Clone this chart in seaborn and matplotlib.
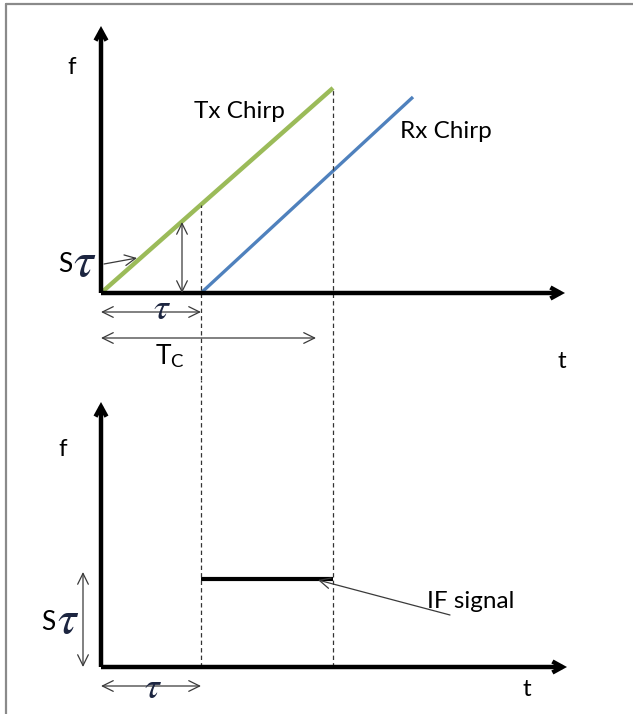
import matplotlib
matplotlib.use("Agg")
import matplotlib.pyplot as plt
import seaborn as sns
import pandas as pd
from matplotlib.lines import Line2D

# ---- data (time in units of tau, frequency in the same diagram units) ----
tau = 1.0
Tc = 2.32
tx_t = [0.0, 2.32]
tx_f = [0.0, 2.05]
rx_t = [1.0, 3.12]
rx_f = [0.0, 1.96]
if_t = [1.0, 2.32]
if_f = [0.88, 0.88]
s_tau = 0.71          # vertical S*tau marker on the top panel (at t=0.81)
s_tau_bottom = 0.95   # vertical S*tau marker on the bottom panel
tc_arrow_end = 2.15
labels_top = ["Tx Chirp", "Rx Chirp"]
label_if = "IF signal"

sns.set_theme(style="white")
plt.rcParams["font.family"] = ["Lato", "DejaVu Sans"]
plt.rcParams["mathtext.fontset"] = "stix"

W, H = 633, 714
fig = plt.figure(figsize=(W / 100, H / 100), dpi=100)
fig.patch.set_facecolor("white")

split = 380
ax1 = fig.add_axes([0, (H - split) / H, 1, split / H])
ax2 = fig.add_axes([0, 0, 1, (H - split) / H])
for ax in (ax1, ax2):
    ax.set_xlim(-1.01, 5.32)
    ax.axis("off")
    ax.set_facecolor("none")
ax1.set_ylim(-0.87, 2.93)
ax2.set_ylim(-0.47, 2.87)

TAU_COLOR = "#1c2540"
THIN = "#3a3a3a"
FS = 17.5

def axis_arrow(ax, start, end):
    ax.annotate("", xy=end, xytext=start,
                arrowprops=dict(arrowstyle="->,head_length=0.6,head_width=0.33",
                                lw=3.2, color="black", shrinkA=0, shrinkB=0,
                                joinstyle="miter", capstyle="butt"))

def thin_arrow(ax, start, end, both=False):
    style = "<->" if both else "->"
    ax.annotate("", xy=end, xytext=start,
                arrowprops=dict(arrowstyle=style + ",head_length=0.65,head_width=0.32",
                                lw=0.9, color=THIN, shrinkA=0, shrinkB=0))

# ---------------- top panel ----------------
df_tx = pd.DataFrame({"t": tx_t, "f": tx_f})
df_rx = pd.DataFrame({"t": rx_t, "f": rx_f})
sns.lineplot(data=df_tx, x="t", y="f", ax=ax1, color="#9bbb59", lw=3.2,
             solid_capstyle="butt")
sns.lineplot(data=df_rx, x="t", y="f", ax=ax1, color="#4f81bd", lw=2.4,
             solid_capstyle="butt")

axis_arrow(ax1, (0, 0), (0, 2.67))
axis_arrow(ax1, (0, 0), (4.64, 0))

# dashed verticals (continue into the lower panel)
ax1.vlines([tau], -0.87, tx_f[1] * tau / Tc, colors="#333333", lw=0.9,
           linestyles=(0, (3.5, 2.5)))
ax1.vlines([Tc], -0.87, tx_f[1], colors="#333333", lw=0.9,
           linestyles=(0, (3.5, 2.5)))

thin_arrow(ax1, (0.81, 0.0), (0.81, s_tau), both=True)
thin_arrow(ax1, (0.03, 0.29), (0.36, 0.35))
thin_arrow(ax1, (0.0, -0.19), (tau, -0.19), both=True)
thin_arrow(ax1, (0.0, -0.45), (tc_arrow_end, -0.45), both=True)

ax1.text(-0.29, 2.25, "f", fontsize=FS, ha="center", va="center", color="black")
ax1.text(4.61, -0.69, "t", fontsize=FS, ha="center", va="center", color="black")
ax1.text(1.38, 1.81, labels_top[0], fontsize=FS, ha="center", va="center", color="black")
ax1.text(3.45, 1.62, labels_top[1], fontsize=FS, ha="center", va="center", color="black")
ax1.text(-0.36, 0.28, "S", fontsize=19, ha="center", va="center", color="black")
ax1.text(-0.16, 0.31, r"$\tau$", fontsize=36, ha="center", va="center", color=TAU_COLOR)
ax1.text(0.61, -0.15, r"$\tau$", fontsize=27, ha="center", va="center", color=TAU_COLOR)
ax1.text(0.69, -0.63, r"T$_\mathregular{C}$", fontsize=19, ha="center", va="center", color="black")

# ---------------- bottom panel ----------------
df_if = pd.DataFrame({"t": if_t, "f": if_f})
sns.lineplot(data=df_if, x="t", y="f", ax=ax2, color="black", lw=3.0,
             solid_capstyle="butt")
axis_arrow(ax2, (0, 0), (0, 2.65))
axis_arrow(ax2, (0, 0), (4.66, 0))
ax2.vlines([tau, Tc], 0, 2.87, colors="#333333", lw=0.9,
           linestyles=(0, (3.5, 2.5)))

thin_arrow(ax2, (-0.18, 0.0), (-0.18, s_tau_bottom), both=True)
thin_arrow(ax2, (0.0, -0.19), (tau, -0.19), both=True)
thin_arrow(ax2, (3.49, 0.52), (2.17, 0.87))

ax2.text(-0.38, 2.17, "f", fontsize=FS, ha="center", va="center", color="black")
ax2.text(4.26, -0.23, "t", fontsize=FS, ha="center", va="center", color="black")
ax2.text(-0.53, 0.45, "S", fontsize=19, ha="center", va="center", color="black")
ax2.text(-0.33, 0.47, r"$\tau$", fontsize=34, ha="center", va="center", color=TAU_COLOR)
ax2.text(0.52, -0.20, r"$\tau$", fontsize=27, ha="center", va="center", color=TAU_COLOR)
ax2.text(3.26, 0.65, label_if, fontsize=FS, ha="left", va="center", color="black")

# frame lines (top and left)
fig.add_artist(Line2D([6 / W, 1], [1 - 4 / H, 1 - 4 / H], color="#8a8a8a", lw=1.6,
                      transform=fig.transFigure))
fig.add_artist(Line2D([6 / W, 6 / W], [0, 1 - 4 / H], color="#8a8a8a", lw=1.6,
                      transform=fig.transFigure))

fig.savefig("out.png", dpi=100, facecolor="white")
